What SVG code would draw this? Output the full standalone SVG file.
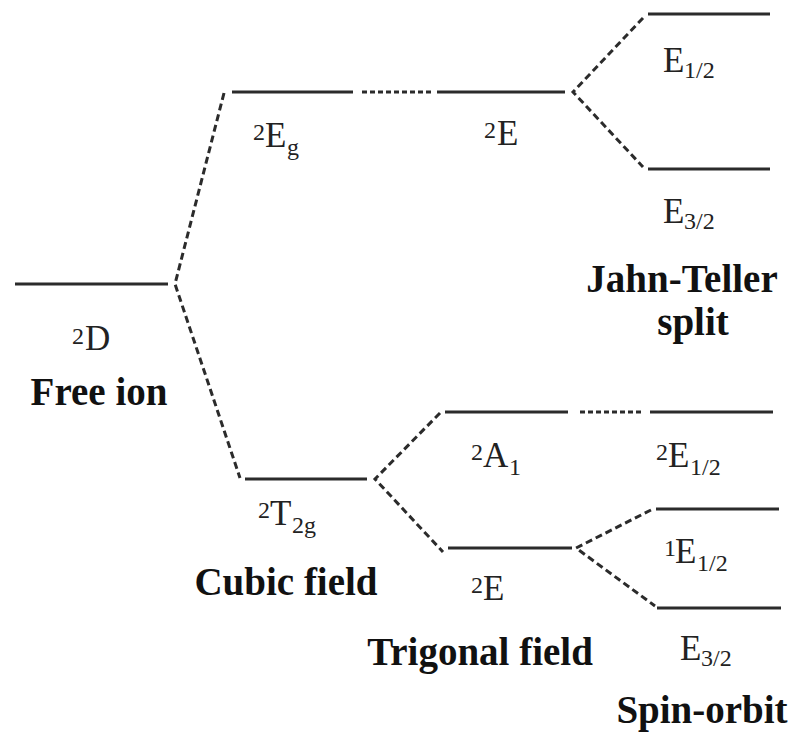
<svg xmlns="http://www.w3.org/2000/svg" width="789" height="739" viewBox="0 0 789 739">
<style>
.lvl{stroke:#2b2b2b;stroke-width:3;fill:none}
.dash{stroke:#2b2b2b;stroke-width:3;fill:none;stroke-dasharray:7 4}
.dot{stroke:#2b2b2b;stroke-width:3;fill:none;stroke-dasharray:5 3}
.lbl{font-size:35px;fill:#222}
.sm{font-size:24px}
.bold{font-size:39px;font-weight:bold;fill:#111;text-anchor:middle}
</style>
<rect width="789" height="739" fill="#fff"/>
<g id="levels">
<g id="D"><line class="lvl" x1="15" y1="284" x2="168" y2="284"/></g>
<g id="Eg"><line class="lvl" x1="232" y1="92" x2="353" y2="92"/></g>
<g id="E-JT"><line class="lvl" x1="437" y1="92" x2="565" y2="92"/></g>
<g id="E12-top"><line class="lvl" x1="648" y1="14" x2="770" y2="14"/></g>
<g id="E32-top"><line class="lvl" x1="648" y1="169" x2="770" y2="169"/></g>
<g id="T2g"><line class="lvl" x1="245" y1="479" x2="367" y2="479"/></g>
<g id="A1"><line class="lvl" x1="445" y1="412" x2="568" y2="412"/></g>
<g id="E2-right"><line class="lvl" x1="650" y1="412" x2="773" y2="412"/></g>
<g id="E-trig"><line class="lvl" x1="448" y1="548" x2="572" y2="548"/></g>
<g id="E1-12"><line class="lvl" x1="656" y1="509" x2="779" y2="509"/></g>
<g id="E32-bot"><line class="lvl" x1="657" y1="608" x2="781" y2="608"/></g>
</g>
<g id="connectors">
<path class="dash" d="M224 93 L175 284 L240 478"/>
<path class="dot" d="M362 92 H432"/>
<path class="dash" d="M643 18 L573 92 L643 167"/>
<path class="dash" d="M440 413 L375 479 L443 552"/>
<path class="dot" d="M580 412 H641"/>
<path class="dash" d="M651 510 L576 548 L655 606"/>
</g>
<g id="labels" font-family="Liberation Serif, serif">
<text class="lbl"><tspan class="sm" x="72" y="344">2</tspan><tspan x="85" y="350">D</tspan></text>
<text class="lbl"><tspan class="sm" x="253" y="140">2</tspan><tspan x="265" y="147">E</tspan><tspan class="sm" x="287" y="155">g</tspan></text>
<text class="lbl"><tspan class="sm" x="484" y="138">2</tspan><tspan x="497" y="145">E</tspan></text>
<text class="lbl"><tspan x="663" y="72">E</tspan><tspan class="sm" x="684" y="78">1/2</tspan></text>
<text class="lbl"><tspan x="663" y="223">E</tspan><tspan class="sm" x="684" y="229">3/2</tspan></text>
<text class="lbl"><tspan class="sm" x="258" y="518">2</tspan><tspan x="270" y="525">T</tspan><tspan class="sm" x="292" y="533">2g</tspan></text>
<text class="lbl"><tspan class="sm" x="471" y="460">2</tspan><tspan x="483" y="467">A</tspan><tspan class="sm" x="509" y="475">1</tspan></text>
<text class="lbl"><tspan class="sm" x="656" y="460">2</tspan><tspan x="668" y="467">E</tspan><tspan class="sm" x="690" y="475">1/2</tspan></text>
<text class="lbl"><tspan class="sm" x="664" y="556">1</tspan><tspan x="675" y="563">E</tspan><tspan class="sm" x="697" y="571">1/2</tspan></text>
<text class="lbl"><tspan class="sm" x="471" y="593">2</tspan><tspan x="483" y="600">E</tspan></text>
<text class="lbl"><tspan x="680" y="660">E</tspan><tspan class="sm" x="701" y="666">3/2</tspan></text>
<text class="bold" x="99" y="405">Free ion</text>
<text class="bold" x="682" y="292">Jahn-Teller</text>
<text class="bold" x="693" y="335">split</text>
<text class="bold" x="286" y="595">Cubic field</text>
<text class="bold" x="480" y="665">Trigonal field</text>
<text class="bold" x="702" y="723">Spin-orbit</text>
</g>
</svg>
